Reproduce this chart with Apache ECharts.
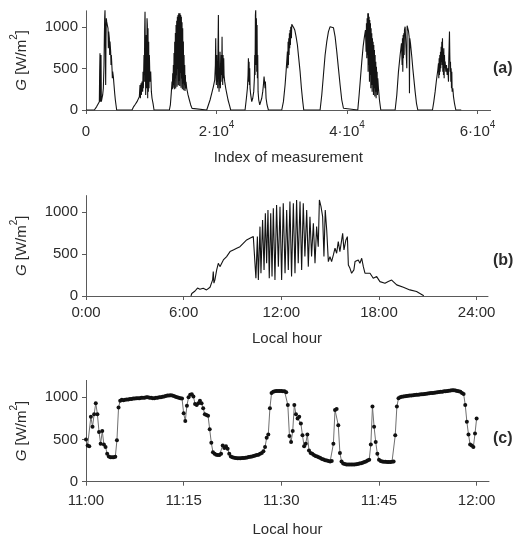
<!DOCTYPE html>
<html>
<head>
<meta charset="utf-8">
<script src="https://cdn.jsdelivr.net/npm/echarts@6/dist/echarts.min.js"></script>
<style>
html,body{margin:0;padding:0;background:#fff;}
#chart{width:519px;height:541px;}
</style>
</head>
<body>
<div id="chart"></div>
<script>
// ---------- DATA ----------
// Panel (a): [index of measurement, G (W/m2)]
const panelA = [
 [0,0],
 [1278,0],[1635,41],[1840,61],[2044,101],[2095,464],[2146,686],[2197,101],[2248,625],[2300,666],[2351,101],
 [2453,142],[2555,182],[2657,263],[2759,545],[2810,867],[2862,1109],[2913,1210],[2964,786],[3015,303],[3066,867],
 [3117,1109],[3168,1069],[3270,1028],[3373,988],[3424,746],[3475,948],[3577,867],[3628,666],[3679,827],[3781,706],
 [3833,545],[3884,666],[3986,504],[4037,383],[4088,464],[4190,404],[4292,303],[4395,202],[4497,121],[4599,61],[4701,0],
 [7052,0],[7307,41],[7563,69],[7818,101],[8023,121],[8176,162],[8278,303],[8329,142],[8432,323],[8483,182],[8585,343],
 [8687,222],[8738,464],[8789,263],[8891,666],[8943,343],[8994,948],[9045,1189],[9096,666],[9147,182],[9198,464],
 [9249,907],[9300,263],[9351,1109],[9402,1028],[9454,142],[9505,988],[9556,222],[9607,827],[9658,263],[9709,666],
 [9811,343],[9913,464],[10016,222],[10118,142],[10271,81],[10424,0],
 [12775,0],[12928,61],[13082,222],[13184,343],[13235,250],[13286,445],[13337,270],[13388,545],[13439,300],[13490,690],
 [13542,250],[13593,827],[13644,380],[13695,930],[13746,260],[13797,1028],[13848,420],[13899,1080],[13950,280],
 [14001,1129],[14053,500],[14104,1150],[14155,300],[14206,1169],[14257,350],[14308,1170],[14359,290],[14410,1169],
 [14461,450],[14512,1150],[14564,270],[14615,1129],[14666,380],[14717,1060],[14768,250],[14819,988],[14870,320],
 [14921,830],[14972,240],[15023,665],[15074,300],[15126,545],[15177,230],[15228,424],[15279,260],[15330,340],
 [15432,263],[15637,182],[15841,121],[16045,61],[16250,20],[16403,0],
 [18498,0],[18754,61],[19009,121],[19265,202],[19520,283],[19724,363],[19827,545],[19878,867],[19929,464],[19980,303],
 [20031,666],[20082,343],[20133,585],[20184,263],[20235,786],[20287,1149],[20338,545],[20389,222],[20440,464],
 [20491,303],[20542,706],[20593,263],[20644,545],[20695,343],[20746,666],[20798,424],[20849,887],[20900,464],
 [20951,303],[21002,666],[21053,383],[21104,625],[21155,424],[21257,343],[21411,263],[21564,202],[21768,121],
 [21973,61],[22177,0],
 [24375,0],[24579,142],[24732,263],[24834,424],[24886,625],[24937,343],[24988,585],[25039,303],[25090,504],[25141,263],
 [25243,182],[25397,101],[25550,142],[25703,222],[25805,383],[25857,666],[25908,424],[25959,1149],[26010,1210],
 [26061,545],[26112,1109],[26163,464],[26214,1028],[26266,383],[26317,666],[26368,222],[26470,121],[26623,61],
 [26776,81],[26930,142],[27083,222],[27185,303],[27287,404],[27389,424],[27441,263],[27492,343],[27594,142],
 [27747,61],[27952,0],
 [29996,0],[30251,101],[30507,303],[30660,464],[30762,585],[30864,706],[30915,504],[30967,827],[31018,545],[31069,867],
 [31120,666],[31171,927],[31222,746],[31273,968],[31324,786],[31375,1008],[31477,867],[31529,1036],[31631,1060],
 [31733,1028],[31835,996],[31988,968],[32193,887],[32397,786],[32602,625],[32806,464],[33010,263],[33215,101],[33368,0],
 [35873,0],[36128,182],[36384,424],[36639,666],[36895,827],[37150,948],[37406,1008],[37661,1020],[37917,996],
 [38172,887],[38428,706],[38683,504],[38939,303],[39194,121],[39450,21],[39603,0],
 [41647,0],[41851,182],[42056,383],[42260,585],[42464,766],[42669,887],[42822,968],[42924,706],[42975,1048],[43027,625],
 [43078,1109],[43129,666],[43180,1169],[43231,464],[43282,1169],[43333,545],[43384,1129],[43435,343],[43487,1089],
 [43538,424],[43589,1048],[43640,263],[43691,988],[43742,303],[43793,927],[43844,222],[43895,867],[43946,303],
 [43997,827],[44048,182],[44100,786],[44151,263],[44202,726],[44253,162],[44304,666],[44355,222],[44406,585],
 [44457,142],[44508,524],[44559,222],[44611,464],[44662,182],[44713,383],[44815,263],[44968,121],[45173,0],
 [47370,0],[47626,182],[47881,464],[48137,666],[48341,807],[48443,545],[48494,867],[48545,464],[48597,907],[48648,625],
 [48699,927],[48750,666],[48801,968],[48903,1008],[49005,1020],[49108,1028],[49159,504],[49210,1020],[49312,988],
 [49414,956],[49516,887],[49567,202],[49618,867],[49721,807],[49823,726],[49925,645],[50078,504],[50232,383],
 [50436,222],[50640,81],[50845,0],
 [53093,0],[53298,101],[53502,222],[53706,363],[53911,484],[54013,565],[54064,383],[54115,625],[54166,424],[54217,666],
 [54269,464],[54320,706],[54371,504],[54422,766],[54473,585],[54524,827],[54575,545],[54626,867],[54677,464],
 [54728,706],[54780,424],[54831,746],[54882,383],[54933,666],[54984,504],[55035,585],[55137,464],[55240,545],
 [55342,424],[55444,504],[55546,343],[55597,625],[55648,786],[55699,948],[55751,666],[55802,464],[55853,585],
 [55904,343],[55955,504],[56006,263],[56057,464],[56108,222],[56210,263],[56313,162],[56466,81],[56670,0],
 [57500,0]
];

// Panel (b): [local hour, G]
const panelB = [
 [6.45,0],[6.5,30],[6.7,60],[6.85,95],[7.0,80],[7.2,93],[7.41,73],[7.62,105],[7.78,192],[7.82,292],[7.86,153],
 [7.92,192],[8.03,312],[8.13,391],[8.23,351],[8.44,431],[8.64,471],[8.85,531],[9.05,551],[9.26,571],[9.46,590],
 [9.66,630],[9.87,670],[10.07,690],[10.28,710],[10.38,690],
 [10.44,212],[10.53,710],[10.59,192],[10.69,829],[10.75,272],[10.85,909],[10.94,312],[11.02,988],[11.10,391],
 [11.18,1028],[11.26,212],[11.35,988],[11.43,232],[11.51,1048],[11.61,192],[11.71,1088],[11.82,351],[11.92,1068],
 [12.02,192],[12.12,1108],[12.23,272],[12.33,1028],[12.43,312],[12.53,1128],[12.63,232],[12.74,1108],[12.84,272],
 [12.94,1148],[13.04,391],[13.15,1128],[13.25,312],[13.35,1108],[13.45,471],[13.56,1028],[13.66,351],[13.76,948],
 [13.86,471],[13.97,869],[14.07,391],[14.17,829],[14.27,590],[14.34,1148],[14.44,1068],[14.54,948],[14.62,471],
 [14.70,1028],[14.79,789],[14.89,411],[14.99,471],[15.09,411],[15.20,491],[15.30,571],[15.40,511],[15.50,650],
 [15.60,531],[15.71,670],[15.77,749],[15.85,551],[15.97,670],[16.06,710],[16.12,371],[16.22,331],[16.32,272],
 [16.46,312],[16.53,411],[16.63,391],[16.73,431],[16.83,391],[16.94,451],[17.04,351],[17.14,272],[17.24,292],
 [17.45,272],[17.65,212],[17.86,232],[18.06,172],[18.17,192],[18.37,153],[18.57,172],[18.78,190],[19.09,133],
 [19.50,105],[19.90,73],[20.31,53],[20.7,10],[20.75,0]
];

// Panel (c): G sampled every 15 s from 11:00 to 12:00
const startC = 0;      // minutes after 11:00
const stepC = 0.25;    // minutes between samples
const gC = [
 500,430,420,770,650,800,930,800,590,450,600,440,410,330,300,290,290,290,295,490,
 880,960,970,965,970,975,975,980,980,985,985,990,990,990,995,995,995,1000,1000,995,
 995,990,990,995,995,1000,1000,1005,1010,1015,1020,1020,1025,1020,1015,1005,1000,995,990,985,
 810,720,900,1000,1030,1035,1010,920,910,930,960,930,870,800,790,780,620,460,350,330,
 320,315,315,330,430,400,420,390,330,300,290,285,280,278,278,278,280,282,285,288,
 292,296,300,305,310,315,320,330,340,360,410,520,560,870,1050,1065,1070,1075,1075,1075,
 1075,1070,1070,1060,910,540,470,600,910,800,750,770,690,550,420,450,560,370,340,330,
 315,305,298,290,280,270,262,255,250,245,240,245,450,850,860,670,340,240,215,210,
 205,205,205,205,205,205,208,210,215,220,225,232,240,250,260,440,890,650,470,330,
 260,245,240,235,235,232,232,232,235,240,550,890,990,1000,1005,1010,1012,1015,1018,1020,
 1022,1025,1027,1030,1030,1032,1035,1037,1040,1042,1045,1047,1050,1052,1055,1057,1060,1062,1065,1067,
 1070,1072,1075,1077,1080,1082,1083,1080,1075,1070,1065,1050,1040,910,710,560,440,430,410,570,
 750
];

// Tick values / labels
const gTicks = [0, 500, 1000];
const idxTicks = [0, 20000, 40000, 60000];
const hourTicks = [0, 6, 12, 18, 24];
const hourLabels = ['0:00', '6:00', '12:00', '18:00', '24:00'];
const minTicks = [0, 15, 30, 45, 60];
const minLabels = ['11:00', '11:15', '11:30', '11:45', '12:00'];

// ---------- CHART ----------
const FONT = "'Liberation Sans', Arial, sans-serif";
const TXT = '#2b2b2b';
const AX = '#5a5a5a';
const chart = echarts.init(document.getElementById('chart'), null, {renderer: 'canvas'});

const seriesC = gC.map((v, i) => [startC + i * stepC, v]);

function yAxisCfg(gridIndex) {
  return {
    gridIndex, type: 'value', min: 0, max: 1200,
    name: '{g|G }{b|[W/m}{s|2}{b|]}',
    nameLocation: 'middle', nameRotate: 90, nameGap: 47,
    nameTextStyle: {
      fontFamily: FONT, fontSize: 15, color: TXT, lineHeight: 24,
      rich: {
        g: {fontFamily: FONT, fontSize: 15, fontStyle: 'italic', color: TXT, lineHeight: 24},
        b: {fontFamily: FONT, fontSize: 15, color: TXT, lineHeight: 24},
        s: {fontFamily: FONT, fontSize: 10, color: TXT, lineHeight: 10, verticalAlign: 'top'}
      }
    },
    axisLine: {show: true, lineStyle: {color: AX, width: 1}},
    axisTick: {show: true, length: 4, customValues: gTicks, lineStyle: {color: AX}},
    axisLabel: {customValues: gTicks, fontFamily: FONT, fontSize: 15, color: TXT, margin: 8,
      formatter: v => String(v)},
    splitLine: {show: false}
  };
}

const option = {
  animation: false,
  backgroundColor: '#fff',
  grid: [
    {left: 86, top: 10.8, width: 404.6, height: 99.2},
    {left: 86, top: 195.6, width: 402, height: 100.4},
    {left: 86, top: 380.4, width: 403, height: 101.3}
  ],
  xAxis: [
    {
      gridIndex: 0, type: 'value', min: 0, max: 62000,
      name: 'Index of measurement', nameLocation: 'middle', nameGap: 40,
      nameTextStyle: {fontFamily: FONT, fontSize: 15, color: TXT},
      axisLine: {onZero: false, lineStyle: {color: AX}},
      axisTick: {length: 4, customValues: idxTicks, lineStyle: {color: AX}},
      axisLabel: {
        customValues: idxTicks, margin: 10,
        formatter: v => v === 0 ? '{b|0}' : '{b|' + (v / 10000) + '·10}{s|4}',
        rich: {
          b: {fontFamily: FONT, fontSize: 15, color: TXT, lineHeight: 24},
          s: {fontFamily: FONT, fontSize: 10, color: TXT, lineHeight: 10, verticalAlign: 'top'}
        }
      },
      splitLine: {show: false}
    },
    {
      gridIndex: 1, type: 'value', min: 0, max: 24.7,
      name: 'Local hour', nameLocation: 'middle', nameGap: 35,
      nameTextStyle: {fontFamily: FONT, fontSize: 15, color: TXT},
      axisLine: {onZero: false, lineStyle: {color: AX}},
      axisTick: {length: 4, customValues: hourTicks, lineStyle: {color: AX}},
      axisLabel: {
        customValues: hourTicks, margin: 9, fontFamily: FONT, fontSize: 15, color: TXT,
        formatter: v => hourLabels[hourTicks.indexOf(v)]
      },
      splitLine: {show: false}
    },
    {
      gridIndex: 2, type: 'value', min: 0, max: 61.9,
      name: 'Local hour', nameLocation: 'middle', nameGap: 41,
      nameTextStyle: {fontFamily: FONT, fontSize: 15, color: TXT},
      axisLine: {onZero: false, lineStyle: {color: AX}},
      axisTick: {length: 4, customValues: minTicks, lineStyle: {color: AX}},
      axisLabel: {
        customValues: minTicks, margin: 12, fontFamily: FONT, fontSize: 15, color: TXT,
        formatter: v => minLabels[minTicks.indexOf(v)]
      },
      splitLine: {show: false}
    }
  ],
  yAxis: [yAxisCfg(0), yAxisCfg(1), yAxisCfg(2)],
  series: [
    {type: 'line', xAxisIndex: 0, yAxisIndex: 0, data: panelA, showSymbol: false,
      lineStyle: {color: '#141414', width: 1.1}},
    {type: 'line', xAxisIndex: 1, yAxisIndex: 1, data: panelB, showSymbol: false,
      lineStyle: {color: '#141414', width: 1.1}},
    {type: 'line', xAxisIndex: 2, yAxisIndex: 2, data: seriesC, symbol: 'circle', symbolSize: 4,
      showSymbol: true, showAllSymbol: true,
      lineStyle: {color: '#707070', width: 1}, itemStyle: {color: '#111'}}
  ],
  graphic: [
    {type: 'text', left: 493, top: 61, style: {text: '(a)', font: 'bold 16px ' + FONT, fill: TXT}},
    {type: 'text', left: 493, top: 253, style: {text: '(b)', font: 'bold 16px ' + FONT, fill: TXT}},
    {type: 'text', left: 493, top: 431, style: {text: '(c)', font: 'bold 16px ' + FONT, fill: TXT}}
  ]
};
chart.setOption(option);
</script>
</body>
</html>
